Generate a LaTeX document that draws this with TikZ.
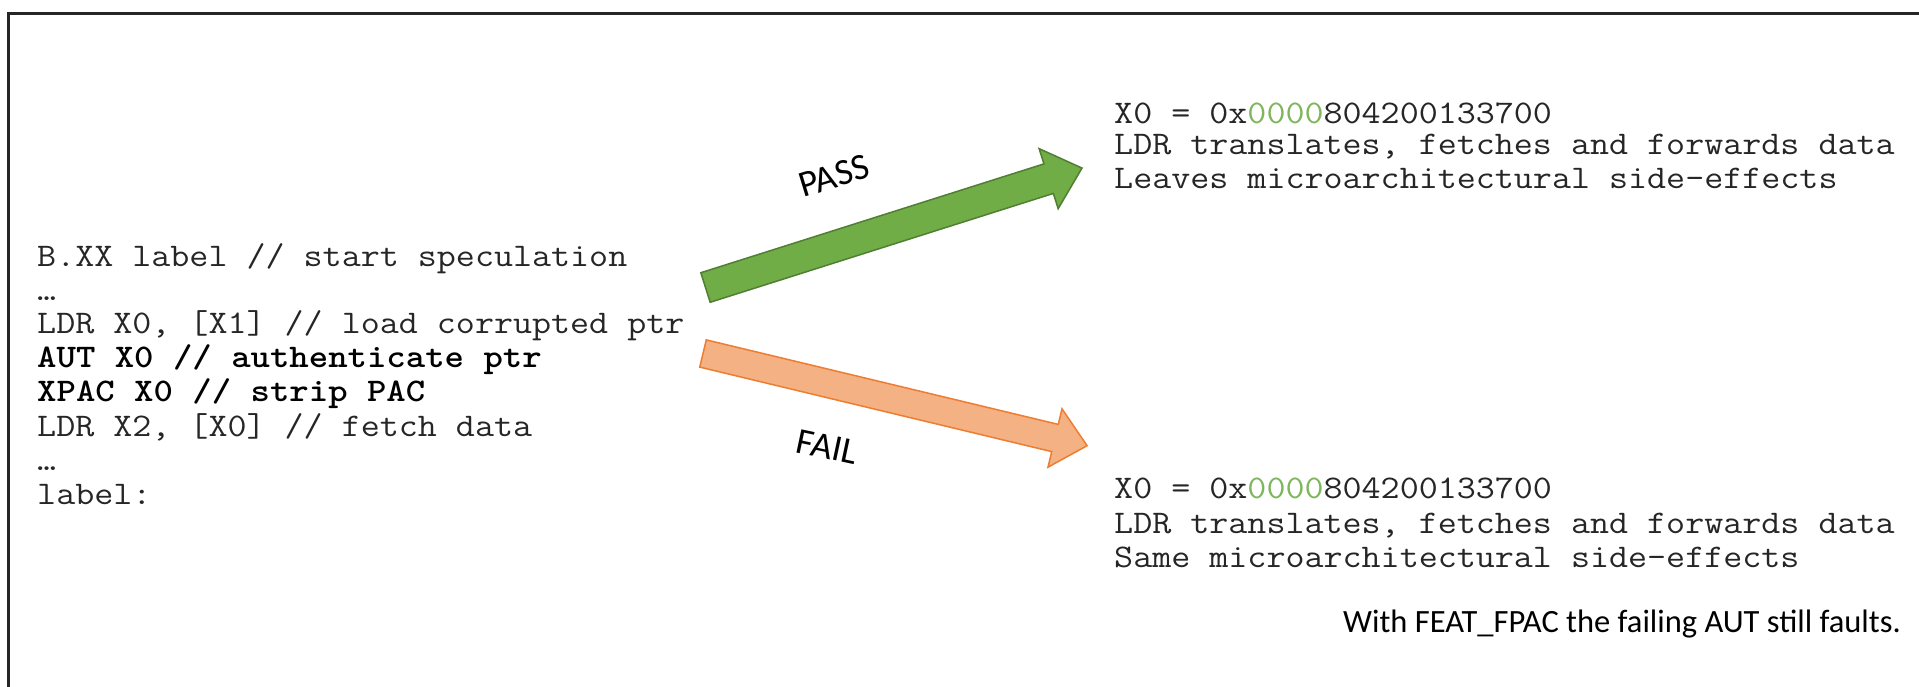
\documentclass[tikz,border=0pt]{standalone}
\usepackage{fontspec}
\newfontfamily\notefont{Carlito}
\definecolor{passfill}{HTML}{70AD47}
\definecolor{passline}{HTML}{507E32}
\definecolor{failfill}{HTML}{F4B183}
\definecolor{failline}{HTML}{ED7D31}
\definecolor{zerogreen}{HTML}{7FB65C}
\tikzset{
  code/.style={anchor=base west, inner sep=0pt, xscale=1.12,
    font=\fontsize{33}{36}\selectfont\ttfamily, text=black!85},
  boldcode/.style={code, font=\fontsize{33}{36}\selectfont\ttfamily\bfseries, text=black},
  tag/.style={inner sep=0pt, font=\fontsize{37}{40}\selectfont\notefont},
  note/.style={anchor=base west, inner sep=0pt, font=\fontsize{32.5}{36}\selectfont\notefont},
  passarrow/.style={fill=passfill, draw=passline, line width=1.5pt, line join=miter},
  failarrow/.style={fill=failfill, draw=failline, line width=1.5pt, line join=miter},
}
\newcommand{\zeros}{{\color{zerogreen}0000}}
\begin{document}
\begin{tikzpicture}[x=1pt,y=-1pt]
\useasboundingbox (0,0) rectangle (1919,687);
\fill[white] (0,0) rectangle (1919,687);
% frame (only left and top edges show)
\draw[line width=3pt, black!85] (8.5,687) -- (8.5,14) -- (1919,14);

% speculative code sequence
\node[code]     (c1) at (37,266) {B.XX label // start speculation};
\node[code]     (c2) at (37,300) {…};
\node[code]     (c3) at (37,333) {LDR X0, [X1] // load corrupted ptr};
\node[boldcode] (c4) at (37,367) {AUT X0 // authenticate ptr};
\node[boldcode] (c5) at (37,401) {XPAC X0 // strip PAC};
\node[code]     (c6) at (37,436) {LDR X2, [X0] // fetch data};
\node[code]     (c7) at (37,470) {…};
\node[code]     (c8) at (37,504) {label:};

% outcome when authentication passes
\node[code] (p1) at (1114,124) {X0 = 0x\zeros804200133700};
\node[code] (p2) at (1114,155) {LDR translates, fetches and forwards data};
\node[code] (p3) at (1114,189) {Leaves microarchitectural side-effects};

% outcome when authentication fails
\node[code] (f1) at (1114,498) {X0 = 0x\zeros804200133700};
\node[code] (f2) at (1114,533) {LDR translates, fetches and forwards data};
\node[code] (f3) at (1114,567) {Same microarchitectural side-effects};

\node[note] (n1) at (1343,632) {With FEAT\_FPAC the failing AUT still faults.};

% PASS arrow
\coordinate (passtail) at (705.5,287.5);
\begin{scope}[shift={(passtail)}, rotate=17.6]
  \path[passarrow] (0,-15.5) -- (360,-15.5) -- (360,-31.5) -- (395,0)
    -- (360,31.5) -- (360,15.5) -- (0,15.5) -- cycle;
\end{scope}
\node[tag, rotate=17] (passlbl) at (834,176) {PASS};

% FAIL arrow
\coordinate (failtail) at (703,353.5);
\begin{scope}[shift={(failtail)}, rotate=-13.5]
  \path[failarrow] (0,-14) -- (362,-14) -- (362,-30) -- (395,0)
    -- (362,30) -- (362,14) -- (0,14) -- cycle;
\end{scope}
\node[tag, rotate=-12] (faillbl) at (827,447) {FAIL};
\end{tikzpicture}
\end{document}
